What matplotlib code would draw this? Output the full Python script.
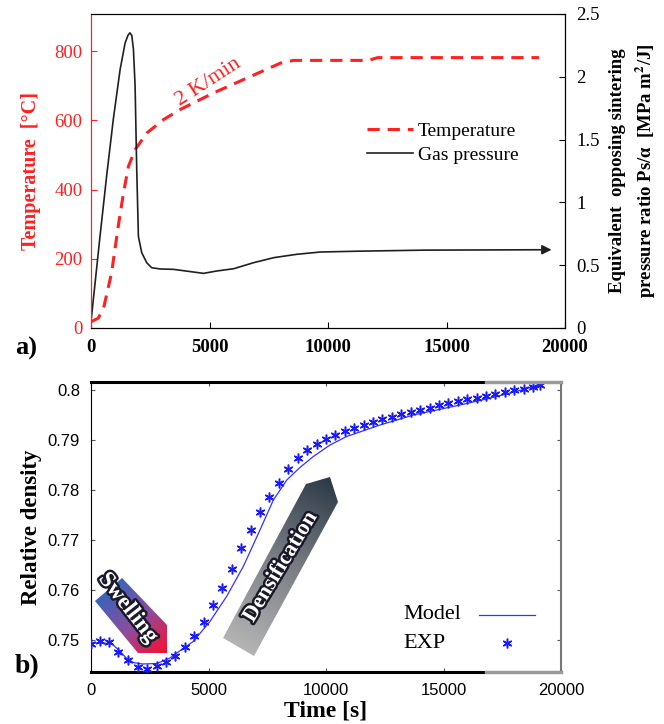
#!/usr/bin/env python3

import numpy as np
import matplotlib
matplotlib.use("Agg")
import matplotlib.pyplot as plt
import matplotlib.patheffects as pe
from matplotlib.patches import Polygon
from matplotlib.colors import LinearSegmentedColormap

plt.rcParams["font.family"] = ["Liberation Serif", "DejaVu Serif"]
plt.rcParams["mathtext.fontset"] = "stix"

# --- panel a: heating schedule and gas pressure ---
t_temp = [0, 300, 520, 870, 1150, 1370, 1580, 1860, 2350, 3060, 3760, 5170,
          6580, 7990, 8550, 9400, 11700, 12100, 15000, 18900]
temp = [18, 28, 54, 160, 294, 390, 467, 515, 563, 602, 631, 679,
        722, 765, 773, 773, 773, 781, 781, 781]

t_gas = [0, 380, 660, 940, 1230, 1440, 1560, 1640, 1720, 1790, 1860, 1930,
         2000, 2140, 2350, 2560, 2920, 3480, 4190, 4750, 5310, 6020, 6860,
         7710, 8690, 9680, 11400, 14100, 19100]
gas = [0.05, 0.73, 1.21, 1.66, 2.06, 2.27, 2.33, 2.35, 2.33, 2.22, 1.93, 1.26,
       0.73, 0.60, 0.52, 0.48, 0.47, 0.467, 0.449, 0.435, 0.454, 0.472, 0.52,
       0.56, 0.587, 0.605, 0.612, 0.62, 0.623]

# --- panel b: relative density ---
t_model = [0, 500, 900, 1200, 1500, 1800, 2200, 2800, 3360, 3800, 4350, 5060,
           5770, 6480, 7190, 7760, 8330, 8890, 9460, 10170, 10880, 12300,
           13720, 15700, 17000, 18000, 19000]
rho_model = [0.7495, 0.7495, 0.7493, 0.7480, 0.7465, 0.7456, 0.7453, 0.7454,
             0.7465, 0.7480, 0.7498, 0.7538, 0.7588, 0.7648, 0.7721, 0.7781,
             0.7821, 0.7846, 0.7868, 0.7891, 0.7908, 0.7931, 0.7951, 0.7971,
             0.7985, 0.7997, 0.8010]

t_exp = [0, 400, 775, 1170, 1590, 1980, 2400, 2790, 3190, 3590, 4000, 4400,
         4790, 5190, 5590, 5980, 6400, 6790, 7190, 7590, 7980, 8400, 8790,
         9190, 9600, 10000, 10400, 10790, 11200, 11600, 12000, 12400, 12810,
         13200, 13600, 14000, 14410, 14810, 15210, 15600, 16020, 16410, 16810,
         17200, 17600, 18020, 18410, 18800, 19100]
rho_exp = [0.7493, 0.7498, 0.7496, 0.7476, 0.7460, 0.7446, 0.7442, 0.7449,
           0.7457, 0.7469, 0.7486, 0.7508, 0.7537, 0.7571, 0.7604, 0.7643,
           0.7684, 0.7721, 0.7757, 0.7787, 0.7814, 0.7843, 0.7864, 0.7880,
           0.7892, 0.7903, 0.7911, 0.7918, 0.7924, 0.7930, 0.7936, 0.7942,
           0.7947, 0.7952, 0.7956, 0.7960, 0.7965, 0.7970, 0.7974, 0.7978,
           0.7982, 0.7985, 0.7989, 0.7993, 0.7997, 0.8000, 0.8003, 0.8007,
           0.8010]

W, H = 664, 724
fig = plt.figure(figsize=(W / 100, H / 100), dpi=100)


def box(l, t, r, b):
    return [l / W, 1 - b / H, (r - l) / W, (b - t) / H]


red = "#ff2020"

# ---------------- panel a ----------------
ax = fig.add_axes(box(91, 14, 565, 328))
ax2 = ax.twinx()

ax.plot(t_temp, temp, color=red, lw=2.2, ls=(0, (4, 2.6)), label="Temperature")
ax2.plot(t_gas, gas, color="#202020", lw=1.2, label="Gas pressure")
ax2.annotate("", xy=(t_gas[-1] + 450, gas[-1]), xytext=(t_gas[-1] - 50, gas[-1]),
             arrowprops=dict(arrowstyle="-|>", color="#202020", lw=1.2,
                             mutation_scale=14))

ax.set_xlim(0, 20000)
ax.set_ylim(0, 907)
ax2.set_ylim(0, 2.5)
ax.set_xticks([0, 5000, 10000, 15000, 20000])
ax.set_yticks([0, 200, 400, 600, 800])
ax2.set_yticks([0, 0.5, 1, 1.5, 2, 2.5])
ax2.set_yticklabels(["0", "0.5", "1", "1.5", "2", "2.5"])

ax.tick_params(axis="x", direction="in", length=4, labelsize=13.5, pad=8)
ax.tick_params(axis="y", direction="in", length=4, labelsize=13.5, pad=6,
               colors=red)
ax2.tick_params(axis="y", direction="in", length=4, labelsize=13.5, pad=8)
for lab in ax.get_xticklabels():
    lab.set_fontweight("bold")
ax.spines["left"].set_color(red)
ax2.spines["left"].set_color(red)

ax.set_ylabel("Temperature  [°C]", color=red, fontsize=14.5, fontweight="bold",
              labelpad=10)
ax2.set_ylabel("Equivalent  opposing sintering\n"
               "pressure ratio Ps/α  [MPa m$^{\\mathbf{2}}$/J]",
               fontsize=13.5, fontweight="bold", labelpad=7, linespacing=1.4)

ax.text(4940, 711, "2 K/min", color=red, fontsize=16, rotation=33,
        ha="center", va="center")

h1, l1 = ax.get_legend_handles_labels()
h2, l2 = ax2.get_legend_handles_labels()
ax2.legend(h1 + h2, l1 + l2, loc="upper left", bbox_to_anchor=(0.565, 0.68),
           frameon=False, fontsize=14, handlelength=2.4, handletextpad=0.25,
           labelspacing=0.35, borderaxespad=0)

fig.text(15 / W, 1 - 348 / H, "a)", fontsize=19, fontweight="bold",
         va="center", ha="left")

# ---------------- panel b ----------------
bx = fig.add_axes(box(91, 382, 561, 672))
blue = "#3333ff"
bx.plot(t_model, rho_model, color=blue, lw=0.9, label="Model", zorder=4)
bx.plot(t_exp, rho_exp, ls="none", marker=(6, 2, 0), ms=7, mew=1.1,
        color="#1a1aff", label="EXP", zorder=4)

bx.set_xlim(0, 20000)
bx.set_ylim(0.7437, 0.8017)
bx.set_xticks([0, 5000, 10000, 15000, 20000])
bx.set_yticks([0.75, 0.76, 0.77, 0.78, 0.79, 0.8])
bx.set_yticklabels(["0.75", "0.76", "0.77", "0.78", "0.79", "0.8"])
bx.tick_params(direction="in", length=3, top=True, right=True, labelsize=12,
               pad=8, color="#555555")
for lab in bx.get_xticklabels() + bx.get_yticklabels():
    lab.set_fontfamily("Liberation Sans")
bx.spines["top"].set_linewidth(2.2)
bx.spines["bottom"].set_linewidth(2.2)
bx.spines["right"].set_color("#777777")
bx.spines["right"].set_linewidth(1.5)
for yy in (0, 1):
    bx.plot([0.84, 1.0], [yy, yy], transform=bx.transAxes, color="#9a9a9a",
            lw=2.4, clip_on=False, zorder=5)

bx.set_xlabel("Time [s]", fontsize=17, fontweight="bold", labelpad=2)
bx.set_ylabel("Relative density", fontsize=16.5, fontweight="bold", labelpad=4)

# legend: handles from the plotted series, labels written to their left
leg = bx.legend(bx.get_lines()[:2], ["", ""], loc="upper left",
                bbox_to_anchor=(0.8255, 0.222), frameon=False, fontsize=16,
                handlelength=2.5, handletextpad=0, labelspacing=0.3,
                borderaxespad=0, borderpad=0)
for row_y, name in zip((0.197, 0.100), ("Model", "EXP")):
    bx.text(0.665, row_y, name, transform=bx.transAxes, fontsize=16,
            ha="left", va="center")

fig.text(15 / W, 1 - 667 / H, "b)", fontsize=20, fontweight="bold",
         va="center", ha="left")


def gradient_arrow(a, pts, start, end, colors, z=2):
    pts = np.asarray(pts, float)
    poly = Polygon(pts, closed=True, facecolor="none", edgecolor="none")
    a.add_patch(poly)
    x0, x1 = pts[:, 0].min(), pts[:, 0].max()
    y0, y1 = pts[:, 1].min(), pts[:, 1].max()
    gx, gy = np.meshgrid(np.linspace(x0, x1, 200), np.linspace(y0, y1, 200))
    bb = a.get_position()
    sx = bb.width * W / np.ptp(a.get_xlim())
    sy = bb.height * H / np.ptp(a.get_ylim())
    dx = (end[0] - start[0]) * sx
    dy = (end[1] - start[1]) * sy
    s = ((gx - start[0]) * sx * dx + (gy - start[1]) * sy * dy) / (dx * dx + dy * dy)
    cmap = LinearSegmentedColormap.from_list("g", colors)
    im = a.imshow(np.clip(s, 0, 1), extent=[x0, x1, y0, y1], origin="lower",
                  cmap=cmap, aspect="auto", zorder=z, interpolation="bilinear")
    im.set_clip_path(poly)


xl, yl = bx.get_xlim(), bx.get_ylim()
gradient_arrow(bx,
               [(170, 0.7579), (1320, 0.7625), (3234, 0.7531), (3234, 0.7475),
                (2000, 0.7475)],
               (745, 0.7602), (3234, 0.7475),
               ["#3a64bb", "#8c4d9e", "#ff0a2a"])
gradient_arrow(bx,
               [(5617, 0.7505), (9149, 0.7813), (10170, 0.7827), (10511, 0.7777),
                (6936, 0.7469)],
               (6276, 0.7487), (10170, 0.7827),
               ["#b4b4b4", "#7a7e84", "#2c3846"])
bx.set_xlim(xl)
bx.set_ylim(yl)

stroke = [pe.withStroke(linewidth=3.5, foreground="#1a1a2a")]
bx.text(1574, 0.7565, "Swelling", color="white", fontsize=16.5,
        fontweight="bold", rotation=-52, ha="center", va="center",
        path_effects=stroke, zorder=6)
bx.text(8085, 0.7647, "Densification", color="white", fontsize=16,
        fontweight="bold", rotation=59, ha="center", va="center",
        path_effects=stroke, zorder=6)

fig.savefig("out.png", dpi=100)
